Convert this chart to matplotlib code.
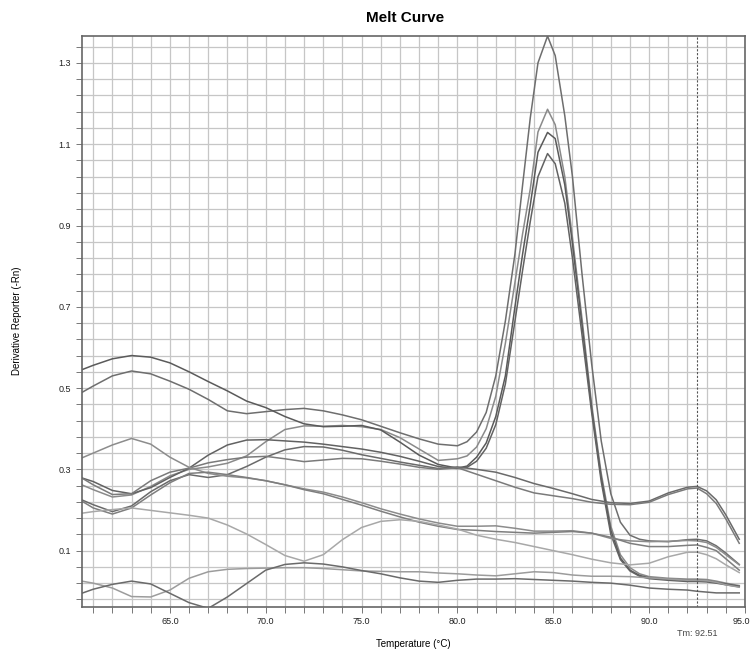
import numpy as np
import matplotlib
matplotlib.use("Agg")
from matplotlib import pyplot as plt
from matplotlib.ticker import FixedLocator, FormatStrFormatter
from matplotlib.transforms import ScaledTranslation

plt.rcParams['font.family'] = ['Liberation Sans', 'DejaVu Sans']

# temperature grids (degC)
temp_coarse = [60.4] + list(range(61, 93)) + [92.5, 93, 93.5, 94, 94.7]
temp_peak = [60.4] + list(range(61, 81)) + [80.5, 81, 81.5, 82, 82.5, 83, 83.4, 83.8, 84.2, 84.7,
                                            85.1, 85.6, 86, 86.5, 87, 87.5, 88, 88.5, 89, 89.5,
                                            90, 91, 92, 92.5, 93, 93.5, 94, 94.7]

# wells with a product peak
peak_b = [0.489, 0.505, 0.53, 0.542, 0.535, 0.517, 0.497, 0.472, 0.444, 0.437, 0.442, 0.447, 0.45,
          0.444, 0.434, 0.422, 0.406, 0.39, 0.375, 0.362, 0.358,
          0.368, 0.392, 0.44, 0.53, 0.665, 0.83, 1.0, 1.165, 1.30, 1.366, 1.318, 1.17, 1.02, 0.78,
          0.56, 0.37, 0.24, 0.17, 0.138, 0.128, 0.124, 0.122, 0.127, 0.128, 0.124, 0.112, 0.094, 0.066]
peak_l3 = [0.262, 0.25, 0.232, 0.237, 0.258, 0.284, 0.300, 0.306, 0.315, 0.333, 0.368, 0.398, 0.407,
           0.406, 0.408, 0.405, 0.398, 0.378, 0.35, 0.322, 0.326,
           0.333, 0.355, 0.40, 0.48, 0.61, 0.76, 0.88, 0.99, 1.13, 1.186, 1.148, 1.02, 0.87, 0.67,
           0.46, 0.29, 0.16, 0.09, 0.058, 0.043, 0.036, 0.032, 0.03, 0.03, 0.029, 0.025, 0.02, 0.014]
peak_a = [0.545, 0.556, 0.572, 0.58, 0.576, 0.562, 0.54, 0.516, 0.493, 0.468, 0.452, 0.43, 0.412,
          0.405, 0.406, 0.408, 0.397, 0.367, 0.335, 0.312, 0.303,
          0.308, 0.33, 0.365, 0.43, 0.53, 0.70, 0.83, 0.95, 1.08, 1.129, 1.114, 1.0, 0.855, 0.655,
          0.45, 0.28, 0.15, 0.082, 0.052, 0.039, 0.033, 0.029, 0.027, 0.027, 0.026, 0.022, 0.018, 0.012]
peak_l4 = [0.279, 0.27, 0.248, 0.24, 0.255, 0.28, 0.303, 0.335, 0.36, 0.372, 0.373, 0.37, 0.367,
           0.362, 0.356, 0.35, 0.342, 0.332, 0.32, 0.307, 0.302,
           0.305, 0.32, 0.352, 0.41, 0.51, 0.665, 0.79, 0.91, 1.02, 1.077, 1.052, 0.955, 0.82, 0.63,
           0.44, 0.27, 0.14, 0.078, 0.05, 0.037, 0.031, 0.027, 0.024, 0.024, 0.023, 0.02, 0.016, 0.011]

# wells without the main peak
flat_g1 = [0.225, 0.213, 0.196, 0.21, 0.245, 0.272, 0.287, 0.28, 0.287, 0.307, 0.33, 0.348, 0.356,
           0.355, 0.347, 0.336, 0.327, 0.318, 0.31, 0.302, 0.306,
           0.30, 0.293, 0.28, 0.265, 0.253, 0.24, 0.226, 0.218, 0.216, 0.222, 0.242, 0.256,
           0.258, 0.247, 0.225, 0.188, 0.128]
flat_g2 = [0.279, 0.262, 0.238, 0.24, 0.272, 0.293, 0.303, 0.316, 0.324, 0.33, 0.332, 0.326, 0.319,
           0.323, 0.327, 0.326, 0.32, 0.313, 0.305, 0.30, 0.304,
           0.288, 0.272, 0.256, 0.242, 0.235, 0.228, 0.219, 0.214, 0.213, 0.219, 0.238, 0.252,
           0.254, 0.24, 0.216, 0.178, 0.118]
flat_h1 = [0.328, 0.34, 0.36, 0.376, 0.362, 0.33, 0.305, 0.29, 0.283, 0.279, 0.272, 0.262, 0.252,
           0.244, 0.232, 0.218, 0.203, 0.19, 0.178, 0.168, 0.16,
           0.16, 0.161, 0.155, 0.148, 0.148, 0.149, 0.143, 0.13, 0.124, 0.122, 0.123, 0.125,
           0.124, 0.12, 0.108, 0.09, 0.065]
flat_h2 = [0.222, 0.205, 0.19, 0.205, 0.237, 0.267, 0.29, 0.293, 0.287, 0.28, 0.272, 0.262, 0.25,
           0.24, 0.226, 0.212, 0.197, 0.183, 0.17, 0.16, 0.152,
           0.15, 0.147, 0.145, 0.143, 0.145, 0.147, 0.143, 0.133, 0.118, 0.11, 0.11, 0.113,
           0.114, 0.108, 0.1, 0.08, 0.052]
flat_d = [0.192, 0.196, 0.201, 0.205, 0.199, 0.193, 0.187, 0.18, 0.163, 0.141, 0.115, 0.088, 0.074,
          0.09, 0.127, 0.157, 0.172, 0.176, 0.172, 0.163, 0.153,
          0.138, 0.128, 0.12, 0.11, 0.10, 0.09, 0.079, 0.07, 0.065, 0.069, 0.085, 0.096,
          0.096, 0.09, 0.08, 0.065, 0.046]
flat_e = [0.025, 0.02, 0.008, -0.013, -0.014, 0.003, 0.032, 0.048, 0.054, 0.056, 0.057, 0.058, 0.058,
          0.056, 0.053, 0.05, 0.049, 0.048, 0.048, 0.045, 0.043,
          0.04, 0.038, 0.043, 0.048, 0.046, 0.04, 0.037, 0.037, 0.036, 0.033, 0.03, 0.027,
          0.027, 0.026, 0.022, 0.016, 0.01]
flat_f = [-0.005, 0.005, 0.017, 0.025, 0.018, -0.005, -0.028, -0.042, -0.014, 0.019, 0.052, 0.066, 0.07,
          0.067, 0.06, 0.051, 0.043, 0.033, 0.025, 0.022, 0.027,
          0.03, 0.03, 0.031, 0.029, 0.027, 0.025, 0.022, 0.02, 0.015, 0.008, 0.005, 0.003,
          0.0, -0.002, -0.004, -0.004, -0.004]

x_ticks = [65, 70, 75, 80, 85, 90, 95]
y_ticks = [0.1, 0.3, 0.5, 0.7, 0.9, 1.1, 1.3]
tm_value = 92.51

fig = plt.figure(figsize=(7.51, 6.54), dpi=100)
ax = fig.add_axes([0.1088, 0.0723, 0.8832, 0.8731])

ax.set_xlim(60.4, 95.0)
ax.set_ylim(-0.038, 1.367)

ax.xaxis.set_major_locator(FixedLocator(x_ticks))
ax.xaxis.set_minor_locator(FixedLocator(np.arange(61, 95, 1)))
ax.yaxis.set_major_locator(FixedLocator(y_ticks))
ax.yaxis.set_minor_locator(FixedLocator(np.arange(-0.02, 1.37, 0.04)))
ax.xaxis.set_major_formatter(FormatStrFormatter('%.1f'))
ax.yaxis.set_major_formatter(FormatStrFormatter('%.1f'))

ax.grid(True, which='both', color='#c6c6c6', linewidth=0.9)
ax.set_axisbelow(True)
ax.tick_params(which='both', direction='out', length=4, width=0.7, color='#777777',
               labelsize=6.5, labelcolor='#222222')
for s in ax.spines.values():
    s.set_color('#666666')
    s.set_linewidth(1.2)

peaks = [(peak_b, '#6e6e6e'), (peak_l3, '#8a8a8a'), (peak_a, '#5a5a5a'), (peak_l4, '#626262')]
for vals, col in peaks:
    ax.plot(temp_peak, vals, color=col, linewidth=1.1)

flats = [(flat_g1, '#6a6a6a'), (flat_g2, '#7a7a7a'), (flat_h1, '#8c8c8c'), (flat_h2, '#7e7e7e'),
         (flat_d, '#a8a8a8'), (flat_e, '#9c9c9c'), (flat_f, '#6a6a6a')]
for vals, col in flats:
    ax.plot(temp_coarse, vals, color=col, linewidth=1.1)

ax.axvline(tm_value, color='#555555', linewidth=0.8, linestyle=(0, (2, 1.5)))
ax.text(tm_value, -0.103, 'Tm: %.2f' % tm_value, ha='center', va='center',
        fontsize=6.5, color='#444444')

# keep the last x label inside the figure
fig.canvas.draw()
last_lbl = ax.get_xticklabels()[-1]
last_lbl.set_transform(last_lbl.get_transform() + ScaledTranslation(-4 / 100, 0, fig.dpi_scale_trans))

ax.set_xlabel('Temperature (°C)', fontsize=7, labelpad=9)
ax.yaxis.set_label_coords(-0.09, 0.5)
ax.set_ylabel('Derivative Reporter (-Rn)', fontsize=7)
fig.text(0.54, 0.973, 'Melt Curve', ha='center', va='center', fontsize=11, fontweight='bold')

fig.savefig('out.png', dpi=100)
